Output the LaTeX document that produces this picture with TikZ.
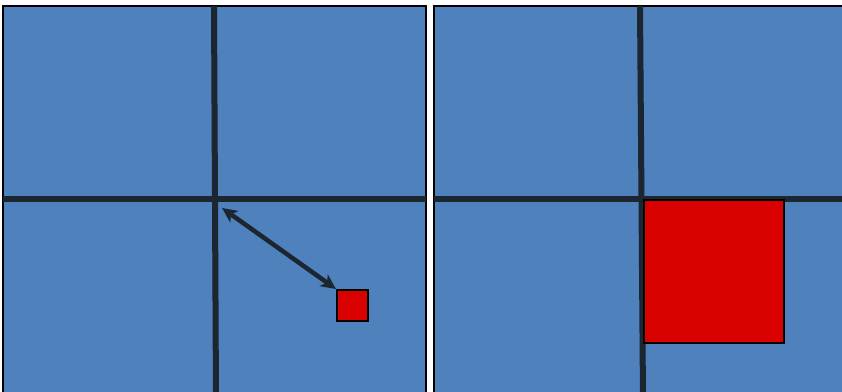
\documentclass[tikz,border=0pt]{standalone}
\usetikzlibrary{arrows.meta}

\definecolor{panelblue}{HTML}{4F81BD}
\definecolor{boxred}{HTML}{D90000}
\definecolor{gridline}{HTML}{1B2630}

\tikzset{
  panel/.style={draw=black, fill=panelblue, line width=1.8pt},
  split/.style={draw=gridline, line width=6pt},
  cell/.style={draw=black, fill=boxred, inner sep=0pt, line width=1.8pt, anchor=north west}
}

\begin{document}
\begin{tikzpicture}[x=1pt,y=-1pt,>={Stealth[length=15pt,width=14pt,inset=4pt]}]

    \useasboundingbox (0,0) rectangle (842,391);
    \clip (0,0) rectangle (842,391);

        % ============================================
        % LEFT SIDE – SMALL BOX AWAY FROM THE CROSS
        % ============================================

        % Background
        \path[panel] (3,6) rectangle (426,400);

        % Dividing lines
        \path[split] (214,6) -- (216,400);
        \path[split] (3,199) -- (426,199);

        % Small box
        \node[cell, minimum size=31] (small) at (336,289) {};

        % Arrow to the cross
        \coordinate (cross) at (222,208);
        \draw[<->, gridline, line width=4.5pt] (cross) -- (small.north west);

        % ============================================
        % RIGHT SIDE – LARGE BOX AT THE CROSS
        % ============================================

        % Background
        \path[panel] (434,6) rectangle (850,400);

        % Dividing lines
        \path[split] (640,6) -- (643,400);
        \path[split] (434,199) -- (850,199);

        % Large box
        \node[cell, minimum width=140, minimum height=143] (large) at (643,199) {};

\end{tikzpicture}
\end{document}
